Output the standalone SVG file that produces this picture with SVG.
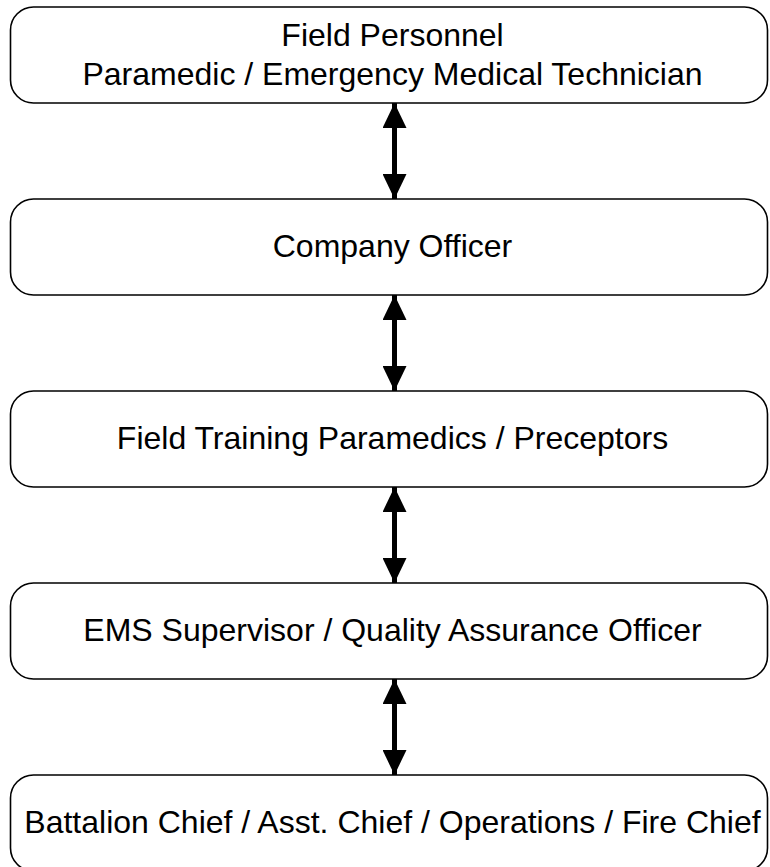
<svg xmlns="http://www.w3.org/2000/svg" width="770" height="867" viewBox="0 0 770 867">
  <defs>
    <marker id="ah" viewBox="0 0 25 24" refX="25" refY="12" markerWidth="25" markerHeight="24" markerUnits="userSpaceOnUse" orient="auto-start-reverse">
      <path d="M0,0 L25,12 L0,24 z" fill="#000"/>
    </marker>
    <style>
      .box { fill: #fff; stroke: #000; stroke-width: 1.6; }
      .lbl { font-family: "Liberation Sans", Arial, sans-serif; font-size: 32px; fill: #000; text-anchor: middle; }
      .conn { stroke: #000; stroke-width: 5; fill: none; marker-start: url(#ah); marker-end: url(#ah); }
    </style>
  </defs>
  <rect width="770" height="867" fill="#fff"/>
  <g id="connectors">
    <line class="conn" x1="394.5" y1="103" x2="394.5" y2="199"/>
    <line class="conn" x1="394.5" y1="295" x2="394.5" y2="391"/>
    <line class="conn" x1="394.5" y1="487" x2="394.5" y2="583"/>
    <line class="conn" x1="394.5" y1="679" x2="394.5" y2="775"/>
  </g>
  <g id="node1">
    <rect class="box" x="10.5" y="7" width="757" height="96" rx="23" ry="23"/>
    <text class="lbl" x="392.5" y="46">Field Personnel</text>
    <text class="lbl" x="392.5" y="85">Paramedic / Emergency Medical Technician</text>
  </g>
  <g id="node2">
    <rect class="box" x="10.5" y="199" width="757" height="96" rx="23" ry="23"/>
    <text class="lbl" x="392.5" y="257">Company Officer</text>
  </g>
  <g id="node3">
    <rect class="box" x="10.5" y="391" width="757" height="96" rx="23" ry="23"/>
    <text class="lbl" x="392.5" y="449">Field Training Paramedics / Preceptors</text>
  </g>
  <g id="node4">
    <rect class="box" x="10.5" y="583" width="757" height="96" rx="23" ry="23"/>
    <text class="lbl" x="392.5" y="641">EMS Supervisor / Quality Assurance Officer</text>
  </g>
  <g id="node5">
    <rect class="box" x="10.5" y="775" width="757" height="96" rx="23" ry="23"/>
    <text class="lbl" x="392.5" y="833">Battalion Chief / Asst. Chief / Operations / Fire Chief</text>
  </g>
</svg>
